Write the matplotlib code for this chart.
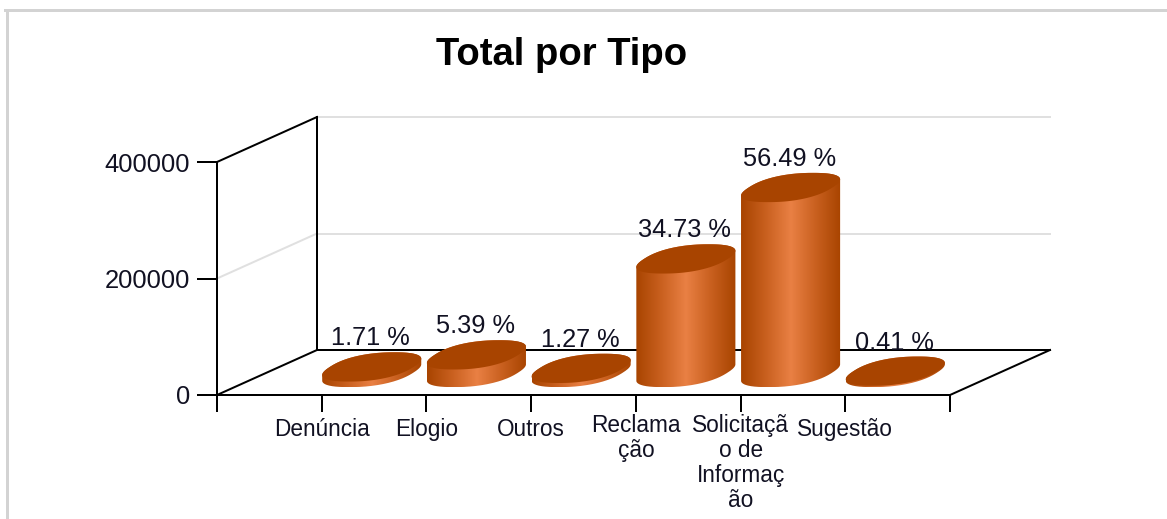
"""Faux 3D cylinder chart: Total por Tipo."""

import numpy as np
import matplotlib
matplotlib.use('Agg')
import matplotlib.pyplot as plt
from matplotlib.colors import LinearSegmentedColormap
from matplotlib.lines import Line2D
from matplotlib.patches import Polygon
from matplotlib.path import Path
from matplotlib.transforms import ScaledTranslation

plt.rcParams['font.family'] = ['Liberation Sans', 'DejaVu Sans']

categories = ['Denúncia', 'Elogio', 'Outros', 'Reclama\nção',
              'Solicitaçã\no de\nInformaç\não', 'Sugestão']
values = [9600, 30300, 7100, 195000, 317600, 2300]
percents = ['1.71 %', '5.39 %', '1.27 %', '34.73 %', '56.49 %', '0.41 %']
y_ticks = [0, 200000, 400000]

W, H = 1167, 519
X_MAX = 7
Y_MAX = 400000
PX = 0.72  # points per pixel at dpi 100

fig = plt.figure(figsize=(W / 100, H / 100), dpi=100)
ax = fig.add_axes([217 / W, (H - 395) / H, 733 / W, 233 / H])

# depth of the floor, in data units
dx = 100 / (733 / X_MAX)
dy = 45 / (233 / Y_MAX)

dark = '#a84400'
light = '#e98044'
text_c = '#111122'
line_w = 2 * PX


def project(x, y, z):
    return x + z * dx, y + z * dy


# walls and floor
grid_c = '#e0e0e0'
for y in y_ticks[1:]:
    c = 'black' if y == Y_MAX else grid_c
    xs, ys = project(np.array([0, 0]), np.array([y, y]), np.array([0, 1]))
    ax.plot(xs, ys, color=c, lw=line_w, clip_on=False, zorder=1)
    xs, ys = project(np.array([0, X_MAX]), np.array([y, y]), np.array([1, 1]))
    ax.plot(xs, ys, color=grid_c, lw=line_w, clip_on=False, zorder=1)

for xs3, ys3, zs3 in [([0, 0], [0, 0], [0, 1]),
                      ([0, 0], [0, Y_MAX], [1, 1]),
                      ([0, X_MAX], [0, 0], [1, 1]),
                      ([X_MAX, X_MAX], [0, 0], [0, 1])]:
    xs, ys = project(np.array(xs3), np.array(ys3), np.array(zs3))
    ax.plot(xs, ys, color='black', lw=line_w, clip_on=False, zorder=2)

# cylinders, the caps are slightly squared off ellipses
cmap = LinearSegmentedColormap.from_list('cyl', [dark, '#c9601f', light, '#c9601f', dark])
grad = np.linspace(0, 1, 256).reshape(1, -1)
a = 0.40
shear = 0.225
minor = 0.325
power = 0.85
pos = np.arange(1, len(values) + 1)
t = np.linspace(0, 2 * np.pi, 240, endpoint=False)
cos_t = np.sign(np.cos(t)) * np.abs(np.cos(t)) ** power
sin_t = np.sign(np.sin(t)) * np.abs(np.sin(t)) ** power

for x, v, pct in zip(pos, values, percents):
    xs, ys = project(x + a * cos_t, v, 0.5)
    xe = xs + shear * dx * sin_t
    ye = ys + minor * dy * sin_t
    base = ye - v

    # walk the cap from its right end: upper side of the top, then lower side of the base
    i_right = np.argmax(xe)
    xr = np.roll(xe, -i_right)
    yr = np.roll(ye, -i_right)
    br = np.roll(base, -i_right)
    i_left = np.argmin(xr)
    outline = np.column_stack([np.r_[xr[:i_left + 1], xr[i_left:], xr[0]],
                               np.r_[yr[:i_left + 1], br[i_left:], yr[0]]])
    im = ax.imshow(grad, cmap=cmap, aspect='auto', interpolation='bilinear', zorder=3,
                   extent=[xe.min(), xe.max(), base.min(), ye.max()], clip_on=True)
    im.set_clip_path(Path(outline, closed=False), ax.transData)

    ax.add_patch(Polygon(np.column_stack([xe, ye]), closed=True, fc=dark, ec='none',
                         clip_on=False, zorder=4))

    cx, cy = project(x, v, 0.5)
    ax.annotate(pct, (cx, cy), xytext=(-1 * PX, 28.5 * PX), textcoords='offset points',
                ha='center', va='center', fontsize=18.3, color=text_c, zorder=5)

ax.set_xlim(0, X_MAX)
ax.set_ylim(0, Y_MAX)
ax.patch.set_visible(False)
ax.spines['top'].set_visible(False)
ax.spines['right'].set_visible(False)
for s in ['left', 'bottom']:
    ax.spines[s].set_linewidth(line_w)

ax.set_yticks(y_ticks)
ax.set_yticklabels([str(y) for y in y_ticks], fontsize=18.4, color=text_c)
ax.set_xticks(np.arange(0, X_MAX + 1))
ax.set_xticklabels([''] + categories + [''], fontsize=16.3, color=text_c, linespacing=1.11)
ax.tick_params(axis='y', length=20 * PX, width=line_w, pad=7 * PX)
ax.tick_params(axis='x', length=17 * PX, width=line_w, pad=2 * PX)

# single line labels sit a little lower than the wrapped ones
drop = ScaledTranslation(0, -4 / 100, fig.dpi_scale_trans)
for label in ax.get_xticklabels():
    if '\n' not in label.get_text():
        label.set_transform(label.get_transform() + drop)

fig.text(562 / W, 1 - 55 / H, 'Total por Tipo', fontsize=27.5, fontweight='bold',
         ha='center', va='center', color='black')

# page border
fig.add_artist(Line2D([6.5 / W, 6.5 / W], [0, 1 - 9.5 / H], color='#d3d3d3', lw=3 * PX))
fig.add_artist(Line2D([5 / W, 1], [1 - 9.5 / H, 1 - 9.5 / H], color='#d3d3d3', lw=3 * PX))

fig.savefig('out.png', dpi=100)
